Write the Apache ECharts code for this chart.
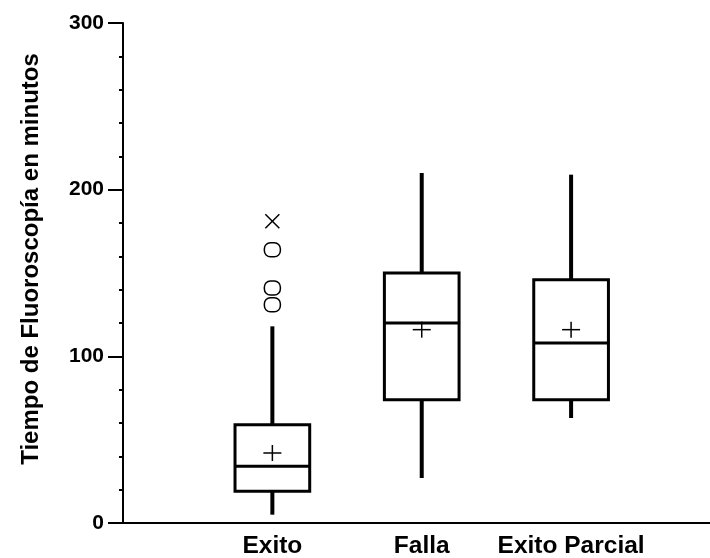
<!DOCTYPE html>
<html>
<head>
<meta charset="utf-8">
<script src="https://cdn.jsdelivr.net/npm/echarts@6/dist/echarts.min.js"></script>
<style>html,body{margin:0;padding:0;background:#fff;}#c{width:710px;height:558px;}</style>
</head>
<body>
<div id="c"></div>
<script>
const categories = ['Exito', 'Falla', 'Exito Parcial'];
const whiskerLow = [5, 27, 63];
const q1 = [19, 74, 74];
const median = [34, 120, 108];
const q3 = [59, 150, 146];
const whiskerHigh = [118, 210, 209];
const means = [42, 116, 116];
const outliersNear = [[1, 131], [1, 141], [1, 164]];
const outliersFar = [[1, 181]];
const yTicks = [0, 100, 200, 300];

const FONT = '"Liberation Sans", Arial, sans-serif';
const boxData = categories.map((c, i) => [i + 1, whiskerLow[i], q1[i], median[i], q3[i], whiskerHigh[i]]);
const meanData = categories.map((c, i) => [i + 1, means[i]]);

function renderBox(params, api) {
  const x = api.value(0);
  const lo = api.coord([x, api.value(1)]);
  const b1 = api.coord([x, api.value(2)]);
  const md = api.coord([x, api.value(3)]);
  const b3 = api.coord([x, api.value(4)]);
  const hi = api.coord([x, api.value(5)]);
  const hw = api.size([0.25, 0])[0];
  const st = { stroke: '#000', lineWidth: 3, fill: null };
  const wst = { stroke: '#000', lineWidth: 4 };
  return {
    type: 'group',
    children: [
      { type: 'line', shape: { x1: hi[0], y1: hi[1], x2: b3[0], y2: b3[1] }, style: wst },
      { type: 'line', shape: { x1: lo[0], y1: lo[1], x2: b1[0], y2: b1[1] }, style: wst },
      { type: 'rect', shape: { x: b3[0] - hw, y: b3[1], width: 2 * hw, height: b1[1] - b3[1] }, style: st },
      { type: 'line', shape: { x1: md[0] - hw, y1: md[1], x2: md[0] + hw + 1, y2: md[1] }, style: { stroke: '#000', lineWidth: 3 } }
    ]
  };
}
function renderPlus(params, api) {
  const p = api.coord([api.value(0), api.value(1)]);
  const s = { stroke: '#000', lineWidth: 1.5 };
  return { type: 'group', children: [
    { type: 'line', shape: { x1: p[0] - 9, y1: p[1], x2: p[0] + 9, y2: p[1] }, style: s },
    { type: 'line', shape: { x1: p[0], y1: p[1] - 8, x2: p[0], y2: p[1] + 8 }, style: s }
  ]};
}
function renderCircle(params, api) {
  const p = api.coord([api.value(0), api.value(1)]);
  return { type: 'rect', shape: { x: p[0] - 8, y: p[1] - 7, width: 16, height: 14, r: 6 }, style: { stroke: '#000', lineWidth: 1.5, fill: null } };
}
function renderX(params, api) {
  const p = api.coord([api.value(0), api.value(1)]);
  const s = { stroke: '#000', lineWidth: 1.5 };
  return { type: 'group', children: [
    { type: 'line', shape: { x1: p[0] - 7, y1: p[1] - 7, x2: p[0] + 7, y2: p[1] + 7 }, style: s },
    { type: 'line', shape: { x1: p[0] - 7, y1: p[1] + 7, x2: p[0] + 7, y2: p[1] - 7 }, style: s }
  ]};
}

const chart = echarts.init(document.getElementById('c'), null, { renderer: 'canvas' });
chart.setOption({
  backgroundColor: '#fff',
  animation: false,
  grid: { left: 123, right: 0, top: 23, bottom: 35, outerBoundsMode: 'none', containLabel: false },
  xAxis: {
    type: 'value', min: 0, max: 3.93, interval: 1,
    axisLine: { show: true, lineStyle: { color: '#000', width: 2 } },
    axisTick: { show: false },
    splitLine: { show: false },
    axisLabel: {
      margin: 11, color: '#000', fontFamily: FONT, fontWeight: 'bold', fontSize: 24.5,
      formatter: v => (Number.isInteger(v) && v >= 1 && v <= categories.length) ? categories[v - 1] : ''
    }
  },
  yAxis: {
    type: 'value', min: yTicks[0], max: yTicks[yTicks.length - 1], interval: 100,
    name: 'Tiempo de Fluoroscopía en minutos', nameLocation: 'middle', nameGap: 80,
    nameTextStyle: { color: '#000', fontFamily: FONT, fontWeight: 'bold', fontSize: 24, padding: [0, 0, 0, 28] },
    axisLine: { show: true, lineStyle: { color: '#000', width: 2 } },
    axisTick: { show: true, length: 15, lineStyle: { color: '#000', width: 2 } },
    minorTick: { show: true, splitNumber: 5, length: 4, lineStyle: { color: '#000', width: 2 } },
    splitLine: { show: false },
    axisLabel: { margin: 19, color: '#000', fontFamily: FONT, fontWeight: 'bold', fontSize: 21 }
  },
  series: [
    { type: 'custom', renderItem: renderBox, data: boxData, encode: { x: 0, y: [1, 2, 3, 4, 5] }, clip: false },
    { type: 'custom', renderItem: renderPlus, data: meanData, encode: { x: 0, y: 1 } },
    { type: 'custom', renderItem: renderCircle, data: outliersNear, encode: { x: 0, y: 1 } },
    { type: 'custom', renderItem: renderX, data: outliersFar, encode: { x: 0, y: 1 } }
  ]
});
</script>
</body>
</html>
